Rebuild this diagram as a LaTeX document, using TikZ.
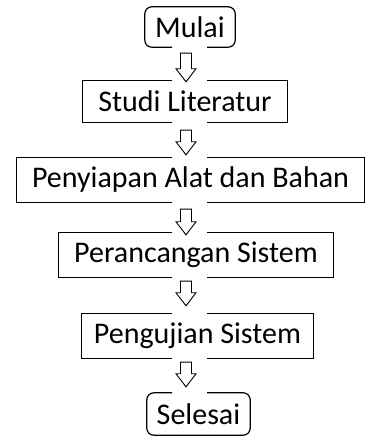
\documentclass[tikz,border=0pt]{standalone}
\usepackage{fontspec}
\setmainfont{Carlito}
\usetikzlibrary{calc}
\begin{document}
\begin{tikzpicture}[x=1pt,y=1pt,
  box/.style={inner sep=0pt,font=\fontsize{30}{34}\selectfont,text=black},
  border/.style={draw=black,line width=1.2pt,line join=miter},
  rborder/.style={border,rounded corners=7pt},
  blockarrow/.style={draw=black,fill=white,line width=0.9pt,line join=miter,
    to path={let \p1=(\tikztostart), \p2=(\tikztotarget) in
      (\x1-5.5pt,\y1) -- (\x1+5.5pt,\y1) -- (\x1+5.5pt,\y2+13pt) -- (\x1+10pt,\y2+13pt)
      -- (\x1,\y2) -- (\x1-10pt,\y2+13pt) -- (\x1-5.5pt,\y2+13pt) -- cycle}}]
\useasboundingbox (0,0) rectangle (365,438);
\coordinate (ax) at (186,0);
\coordinate (gl) at (172,0);
\coordinate (gr) at (207,0);
\node[box,minimum width=90pt,minimum height=40pt] (mulai) at (190,411) {Mulai};
\node[box,minimum width=204pt,minimum height=41pt] (studi) at (185,336.5) {Studi Literatur};
\node[box,minimum width=347pt,minimum height=44pt] (siap) at (190.5,258) {Penyiapan Alat dan Bahan};
\node[box,minimum width=274pt,minimum height=44pt] (rancang) at (196,183) {Perancangan Sistem};
\node[box,minimum width=231pt,minimum height=44pt] (uji) at (197.5,102) {Pengujian Sistem};
\node[box,minimum width=103pt,minimum height=42pt] (selesai) at (198.5,24) {Selesai};
% borders with gaps where the arrows pass
\draw[rborder] (mulai.south -| gl) -- (mulai.south west) -- (mulai.north west)
  -- (mulai.north east) -- (mulai.south east) -- (mulai.south -| gr);
\foreach \n in {studi,siap,rancang,uji}{
  \draw[border] (\n.north -| gl) -- (\n.north west) -- (\n.south west) -- (\n.south -| gl);
  \draw[border] (\n.north -| gr) -- (\n.north east) -- (\n.south east) -- (\n.south -| gr);
}
\draw[rborder] (selesai.north -| gl) -- (selesai.north west) -- (selesai.south west)
  -- (selesai.south east) -- (selesai.north east) -- (selesai.north -| gr);
% block arrows
\coordinate (a1s) at ($(mulai.south -| ax)+(0,-6pt)$);
\coordinate (a1e) at ($(studi.north -| ax)+(0,-1pt)$);
\coordinate (a2s) at ($(studi.south -| ax)+(0,-8pt)$);
\coordinate (a2e) at ($(siap.north -| ax)+(0,3pt)$);
\coordinate (a3s) at ($(siap.south -| ax)+(0,-7pt)$);
\coordinate (a3e) at ($(rancang.north -| ax)+(0,-2pt)$);
\coordinate (a4s) at ($(rancang.south -| ax)+(0,-4pt)$);
\coordinate (a4e) at ($(uji.north -| ax)+(0,8pt)$);
\coordinate (a5s) at ($(uji.south -| ax)+(0,-4pt)$);
\coordinate (a5e) at ($(selesai.north -| ax)+(0,6pt)$);
\foreach \s/\e in {a1s/a1e,a2s/a2e,a3s/a3e,a4s/a4e,a5s/a5e}{
  \path[blockarrow] (\s) to (\e);
}
\end{tikzpicture}
\end{document}
